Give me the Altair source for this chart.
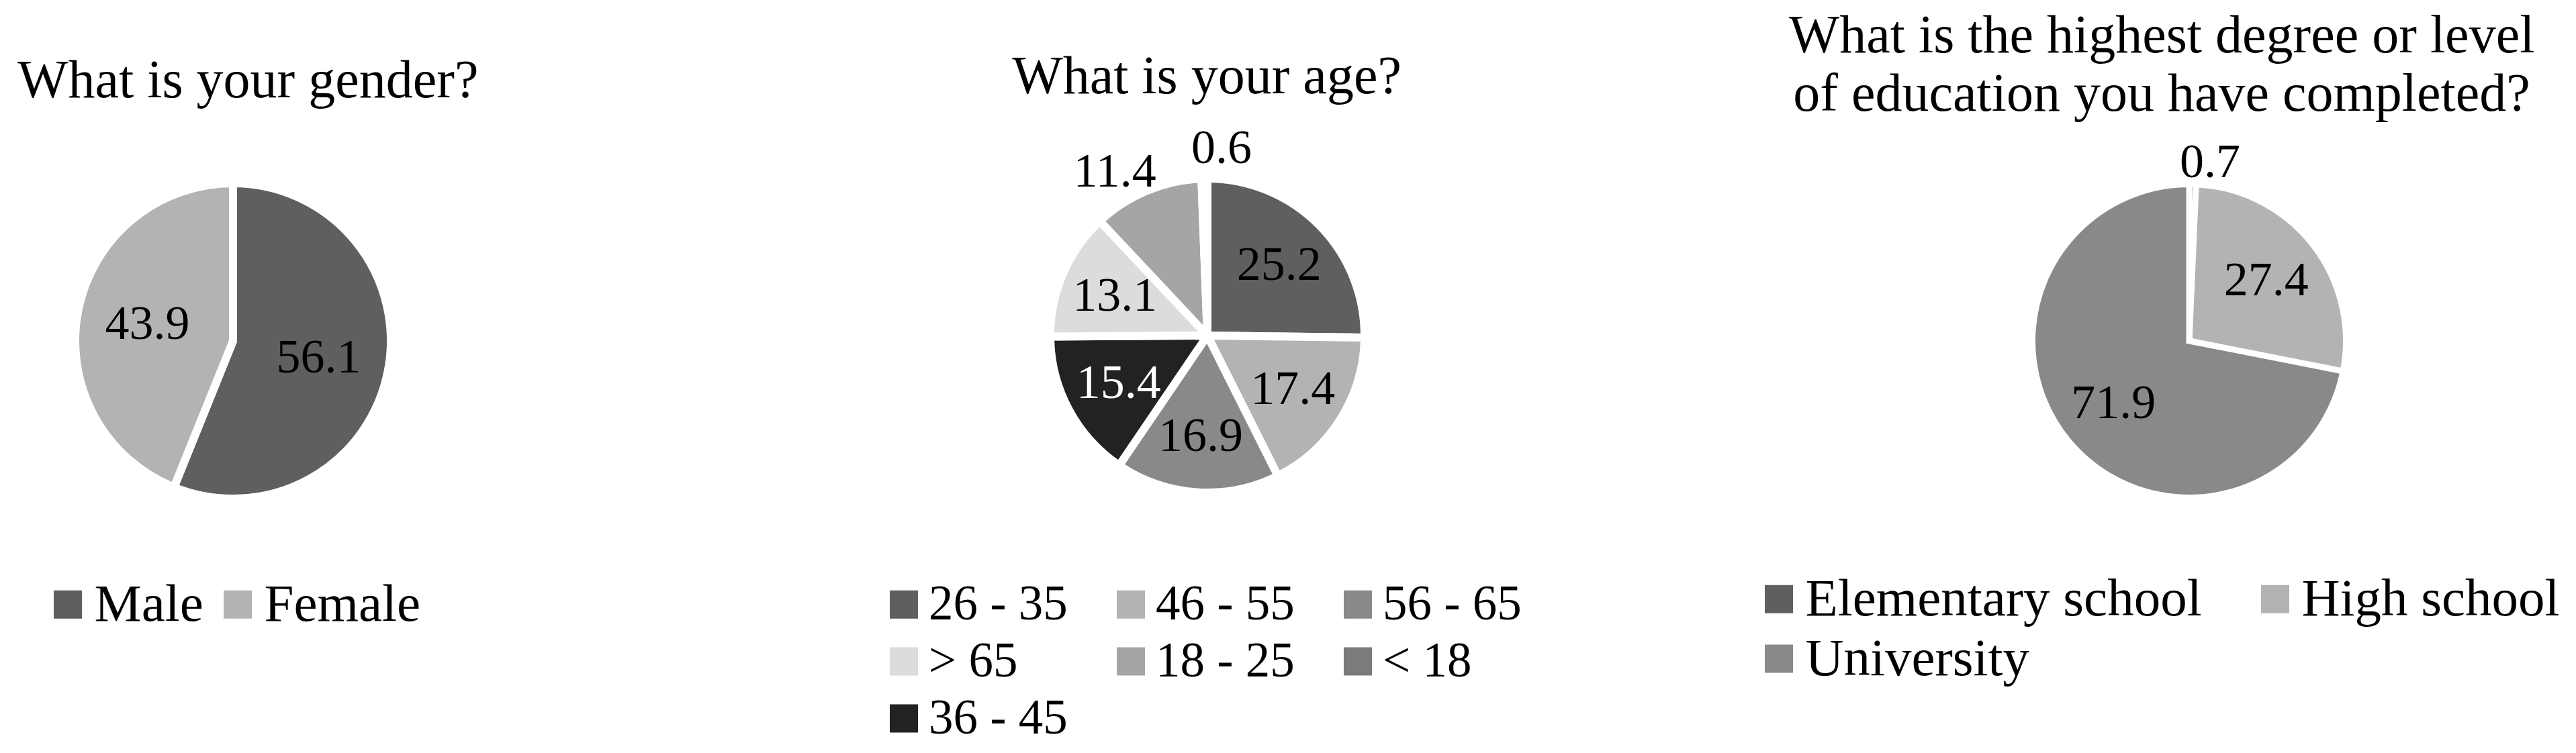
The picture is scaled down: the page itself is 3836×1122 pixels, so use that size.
import altair as alt
import pandas as pd

FONT = "Liberation Serif"

# ---- data ----
titles = [
    "What is your gender?",
    "What is your age?",
    "What is the highest degree or level\nof education you have completed?",
]

gender_cats = ["Male", "Female"]
gender_vals = [56.1, 43.9]
gender_legend = ["Male", "Female"]
gender_colors = ["#5f5f5f", "#b3b3b3"]

# clockwise from 12 o'clock
age_cats = ["26 - 35", "46 - 55", "56 - 65", "36 - 45", "> 65", "18 - 25", "< 18"]
age_vals = [25.2, 17.4, 16.9, 15.4, 13.1, 11.4, 0.6]
age_legend = ["26 - 35", "46 - 55", "56 - 65", "> 65", "18 - 25", "< 18", "36 - 45"]
age_colors = ["#5f5f5f", "#b3b3b3", "#898989", "#dcdcdc", "#a5a5a5", "#7b7b7b", "#222222"]

edu_cats = ["Elementary school", "High school", "University"]
edu_vals = [0.7, 27.4, 71.9]
edu_legend = ["Elementary school", "High school", "University"]
edu_colors = ["#5f5f5f", "#b3b3b3", "#898989"]

M = 8  # page margin


def pie(cats, vals, legend_order, colors, cx, cy, r, sw, r_in, r_out, legend):
    df = pd.DataFrame({"category": cats, "value": vals, "order": list(range(len(cats)))})
    fs = legend.pop("labelFontSize")
    sym_left = legend.pop("symLeft")
    gap = legend.pop("gap")
    half = (fs - 42) / 2.0
    text_start = sym_left + 42 + gap
    off = text_start - (sym_left - half) - fs
    leg = dict(legend)
    if off >= 0:
        leg["legendX"] = sym_left - half - M
        leg["labelOffset"] = off
    else:
        leg["legendX"] = text_start - fs - M
        leg["labelOffset"] = 0
        leg["symbolOffset"] = -off
    leg["legendY"] = legend["legendY"] - M
    arc = (
        alt.Chart(df)
        .mark_arc(radius=r + sw / 2, stroke="white", strokeWidth=sw)
        .encode(
            theta=alt.Theta("value:Q", stack=True),
            order=alt.Order("order:Q"),
            x=alt.value(cx - M),
            y=alt.value(cy - M),
            color=alt.Color(
                "category:N",
                scale=alt.Scale(domain=legend_order, range=colors),
                legend=alt.Legend(
                    orient="none",
                    title=None,
                    direction="horizontal",
                    symbolType="square",
                    symbolSize=1764,
                    symbolStrokeWidth=0,
                    symbolOpacity=1,
                    labelFont=FONT,
                    labelFontSize=fs,
                    labelColor="black",
                    labelLimit=2000,
                    padding=0,
                    **leg,
                ),
            ),
        )
    )
    # labels: slice mid-angle; small slices get an outside label, spread apart
    text = (
        alt.Chart(df)
        .transform_joinaggregate(total="sum(value)")
        .transform_window(cum="sum(value)", sort=[alt.SortField("order")], frame=[None, 0])
        .transform_calculate(pos="datum.value < 12 ? 1 : 0")
        .transform_calculate(
            frac="(datum.cum - datum.value / 2) / datum.total"
            " + (datum.pos == 1 ? (datum.value < 1 ? 0.015 : -0.019) : 0)"
        )
        .mark_text(font=FONT, fontSize=72, align="center", baseline="middle")
        .encode(
            theta=alt.Theta("frac:Q", stack=False, scale=alt.Scale(domain=[0, 1])),
            radius=alt.Radius(
                "pos:Q", scale=alt.Scale(type="linear", domain=[0, 1], range=[r_in, r_out])
            ),
            x=alt.value(cx - M),
            y=alt.value(cy - M),
            text=alt.Text("value:Q", format=".1f"),
            color=alt.condition(
                "datum.category === '36 - 45'", alt.value("white"), alt.value("black")
            ),
        )
    )
    return [arc, text]


def title(txt, x, y, align):
    return (
        alt.Chart(pd.DataFrame({"t": [txt]}))
        .mark_text(
            font=FONT,
            fontSize=80,
            align=align,
            baseline="alphabetic",
            lineBreak="\n",
            lineHeight=87,
            color="black",
        )
        .encode(text="t:N", x=alt.value(x - M), y=alt.value(y - M))
    )


layers = []
# page coordinates below
layers += pie(
    gender_cats, gender_vals, gender_legend, gender_colors,
    347, 508, 229, 12, 130, 270,
    dict(symLeft=80, gap=12, legendY=861, columnPadding=5, labelFontSize=79),
)
layers += pie(
    age_cats, age_vals, age_legend, age_colors,
    1798, 500, 228, 12, 150, 280,
    dict(symLeft=1325, gap=16, legendY=864, columns=3, columnPadding=57, rowPadding=11,
         labelFontSize=73),
)
layers += pie(
    edu_cats, edu_vals, edu_legend, edu_colors,
    3260, 508, 229, 9, 146, 268,
    dict(symLeft=2628, gap=18, legendY=853, columns=2, columnPadding=69, rowPadding=9,
         labelFontSize=79),
)
layers.append(title(titles[0], 26, 145, "left"))
layers.append(title(titles[1], 1797, 139, "center"))
layers.append(title(titles[2], 3219, 78, "center"))

chart = (
    alt.layer(*layers)
    .resolve_scale(color="independent", theta="independent", radius="independent")
    .properties(width=3810, height=1090, padding=0, background="white")
    .configure_view(strokeWidth=0)
)

chart.save("out.html", embed_options={"renderer": "svg", "actions": False})
